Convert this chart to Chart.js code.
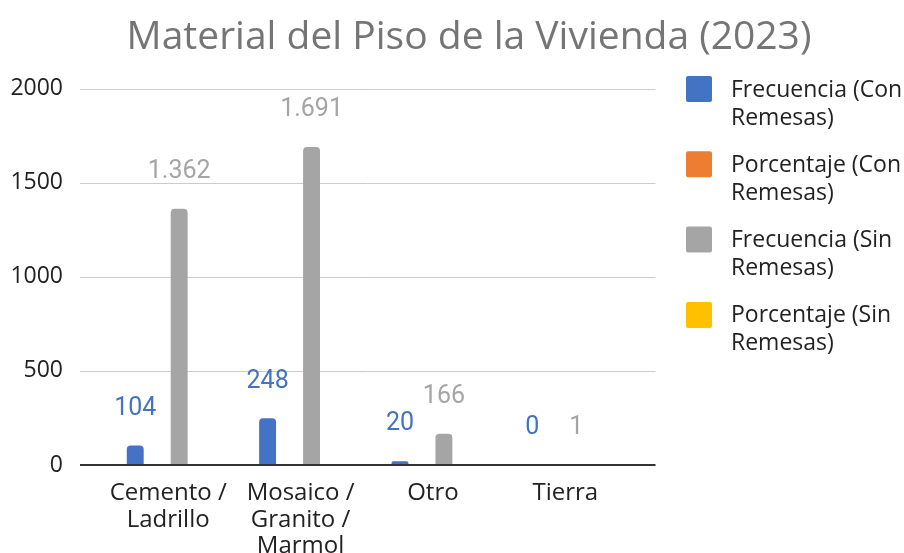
<!DOCTYPE html>
<html>
<head>
<meta charset="utf-8">
<script src="https://cdn.jsdelivr.net/npm/chart.js@4/dist/chart.umd.min.js"></script>
<style>
  html, body { margin: 0; padding: 0; background: #fff; }
  #wrap { width: 904px; height: 553px; position: relative; }
</style>
</head>
<body>
<div id="wrap"><canvas id="grafico"></canvas></div>
<script>
// Datos del grafico
const categorias = [['Cemento /', 'Ladrillo'], ['Mosaico /', 'Granito /', 'Marmol'], 'Otro', 'Tierra'];
const frecConRemesas = [104, 248, 20, 0];
const porcConRemesas = [0.28, 0.67, 0.05, 0];
const frecSinRemesas = [1362, 1691, 166, 1];
const porcSinRemesas = [0.42, 0.53, 0.05, 0];
const ticksY = [0, 500, 1000, 1500, 2000];

const COLORES = ['#4472C4', '#ED7D31', '#A5A5A5', '#FFC000'];
const ETIQUETAS_COLOR = { 0: '#4472C4', 2: '#A5A5A5' };

// Formato con punto de miles (1.362)
const fmt = v => String(v).replace(/\B(?=(\d{3})+(?!\d))/g, '.');

// Lineas de cuadricula mas anchas que el area de barras
// (las claras detras de las barras, la linea del cero encima)
const lineaY = (chart, v, color, ancho) => {
  const { ctx, chartArea, scales } = chart;
  const y = Math.round(scales.y.getPixelForValue(v)) + (ancho % 2 ? 0.5 : 0);
  ctx.save();
  ctx.beginPath();
  ctx.strokeStyle = color;
  ctx.lineWidth = ancho;
  ctx.moveTo(chartArea.left - 22, y);
  ctx.lineTo(chartArea.right + 24, y);
  ctx.stroke();
  ctx.restore();
};

const gridPlugin = {
  id: 'gridExtendida',
  beforeDatasetsDraw(chart) {
    ticksY.filter(v => v !== 0).forEach(v => lineaY(chart, v, '#cccccc', 1));
  },
  afterDatasetsDraw(chart) {
    lineaY(chart, 0, '#333333', 2);
  }
};

// Valores encima de las barras de frecuencia
const valoresPlugin = {
  id: 'valores',
  afterDatasetsDraw(chart) {
    const { ctx } = chart;
    ctx.save();
    ctx.font = "25px Roboto";
    ctx.textAlign = 'center';
    ctx.textBaseline = 'middle';
    Object.keys(ETIQUETAS_COLOR).forEach(i => {
      const meta = chart.getDatasetMeta(+i);
      const data = chart.data.datasets[i].data;
      ctx.fillStyle = ETIQUETAS_COLOR[i];
      meta.data.forEach((bar, j) => {
        ctx.fillText(fmt(data[j]), bar.x, bar.y - 37);
      });
    });
    ctx.restore();
  }
};

// Leyenda a la derecha, en dos lineas
const leyendaPlugin = {
  id: 'leyendaDerecha',
  afterDraw(chart) {
    const { ctx } = chart;
    const x = 686, top = 76, paso = 75.3;
    ctx.save();
    ctx.font = "23px 'Open Sans'";
    ctx.textAlign = 'left';
    ctx.textBaseline = 'middle';
    chart.data.datasets.forEach((ds, i) => {
      const y = top + i * paso;
      ctx.fillStyle = ds.backgroundColor;
      ctx.beginPath();
      ctx.roundRect(x, y, 26, 26, 2);
      ctx.fill();
      ctx.fillStyle = '#222222';
      const partes = ds.label.split('\n');
      partes.forEach((p, k) => ctx.fillText(p, x + 45, y + 14 + k * 28));
    });
    ctx.restore();
  }
};

const series = [
  ['Frecuencia (Con\nRemesas)', frecConRemesas],
  ['Porcentaje (Con\nRemesas)', porcConRemesas],
  ['Frecuencia (Sin\nRemesas)', frecSinRemesas],
  ['Porcentaje (Sin\nRemesas)', porcSinRemesas]
];

new Chart(document.getElementById('grafico'), {
  type: 'bar',
  data: {
    labels: categorias,
    datasets: series.map(([label, data], i) => ({
      label,
      data,
      backgroundColor: COLORES[i],
      borderRadius: i % 2 === 0 ? 4 : 0,
      categoryPercentage: 0.664,
      barPercentage: 0.77
    }))
  },
  options: {
    responsive: true,
    maintainAspectRatio: false,
    animation: false,
    layout: { padding: { left: 0, right: -34, top: 0, bottom: 0 } },
    plugins: {
      legend: { display: false },
      tooltip: { enabled: false },
      title: {
        display: true,
        text: 'Material del Piso de la Vivienda (2023)',
        color: '#757575',
        font: { family: "'Open Sans'", size: 39, weight: 'normal' },
        padding: { top: 14, bottom: 28 }
      }
    },
    scales: {
      x: {
        grid: { display: false },
        border: { display: false },
        ticks: {
          color: '#222222',
          font: { family: "'Open Sans'", size: 24, lineHeight: 1.11 },
          padding: 7,
          maxRotation: 0,
          autoSkip: false
        },
        afterFit: s => { s.height = 88; }
      },
      y: {
        min: 0,
        max: 2000,
        grid: { display: false },
        border: { display: false },
        ticks: {
          stepSize: 500,
          color: '#222222',
          font: { family: "'Open Sans'", size: 23 },
          padding: 31,
          callback: v => String(v)
        },
        afterFit: s => { s.width = 102; }
      },
      yDer: {
        type: 'linear',
        position: 'right',
        grid: { display: false },
        border: { display: false },
        ticks: { display: false },
        afterFit: s => { s.width = 306.5; }
      }
    }
  },
  plugins: [gridPlugin, valoresPlugin, leyendaPlugin]
});
</script>
</body>
</html>
